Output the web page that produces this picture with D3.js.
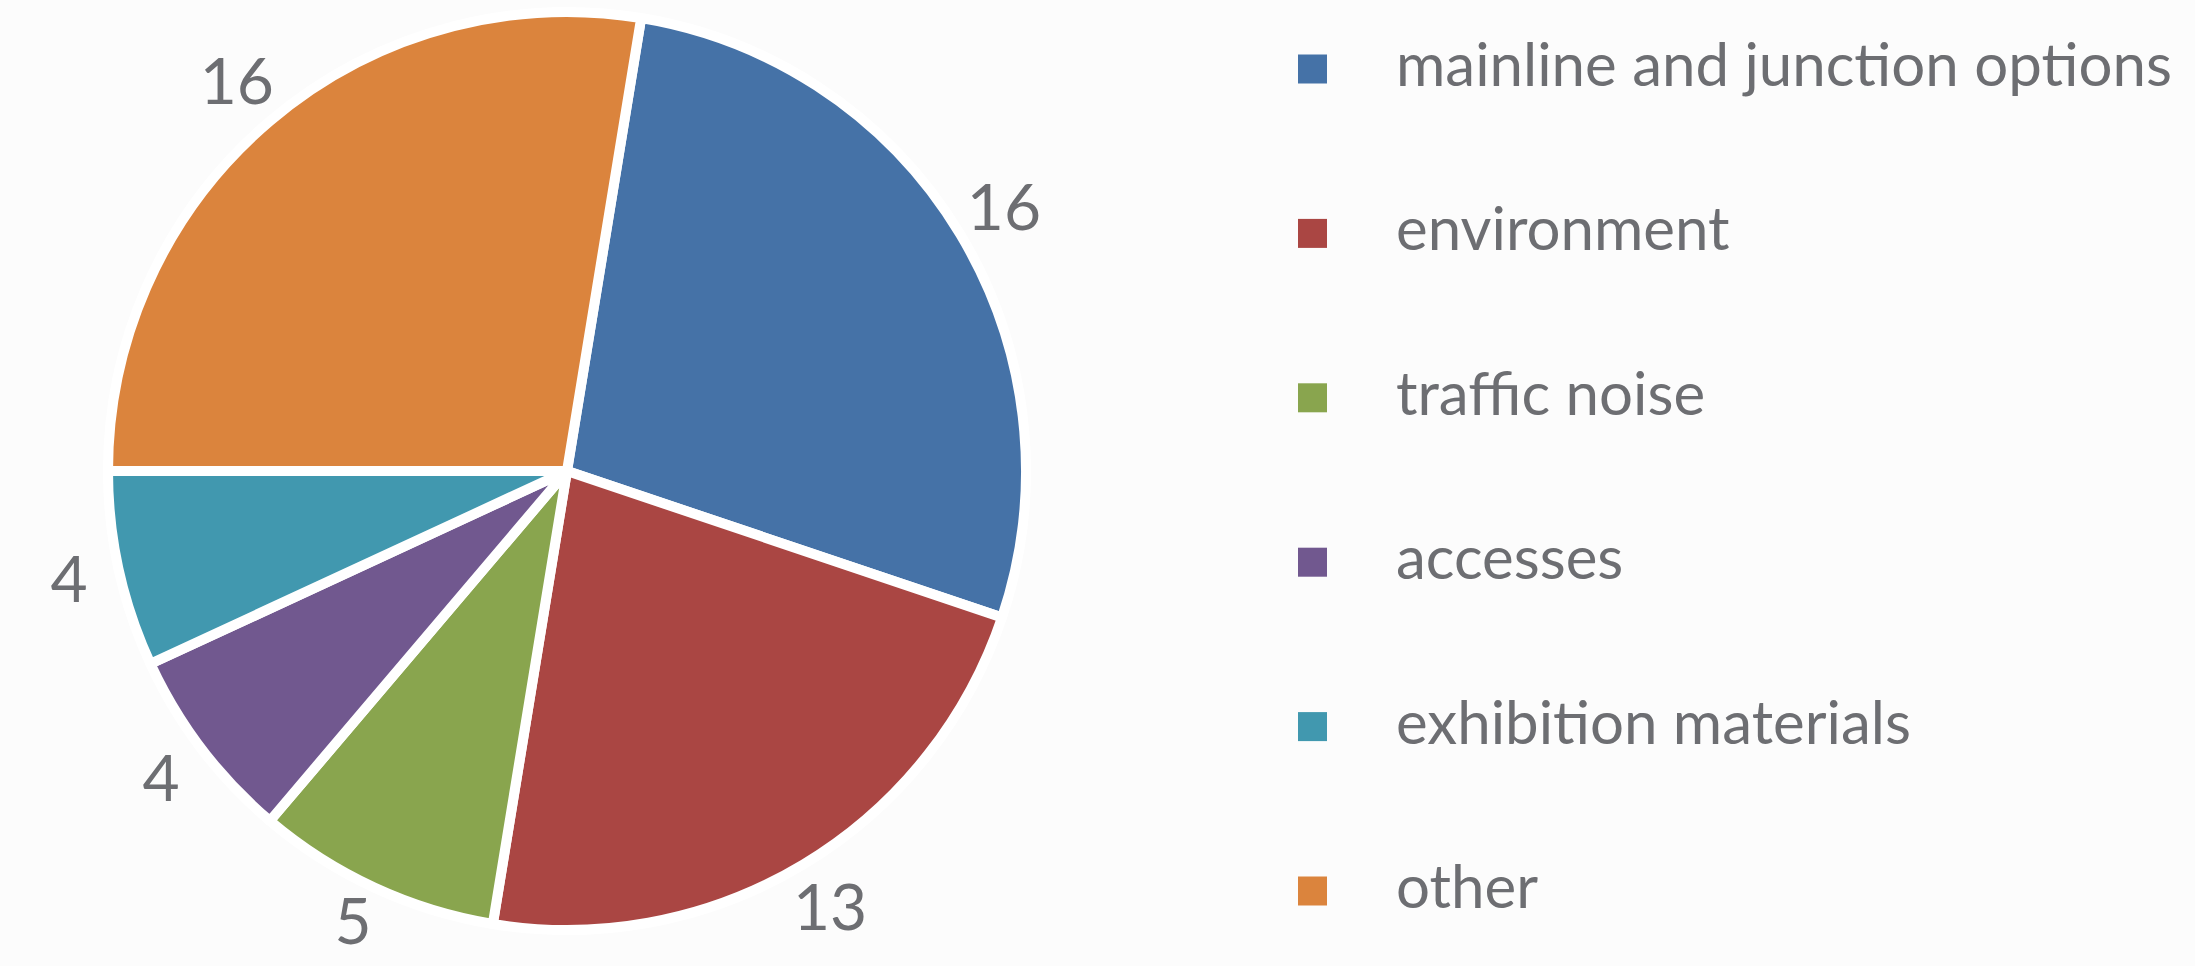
<!DOCTYPE html>
<html>
<head>
<meta charset="utf-8">
<script src="https://cdn.jsdelivr.net/npm/d3@7"></script>
<style>
  html, body { margin: 0; padding: 0; background: #fcfcfc; }
  svg { display: block; }
</style>
</head>
<body>
<div id="chart"></div>
<script>
'use strict';

var categories = ['mainline and junction options', 'environment', 'traffic noise', 'accesses', 'exhibition materials', 'other'];
var values = [16, 13, 5, 4, 4, 16];
var colors = ['#4572A7', '#AA4643', '#89A54E', '#71588F', '#4198AF', '#DB843D'];

var width = 2195, height = 966;
var cx = 567, cy = 471, radius = 459;
var labelRadius = 510;
var startAngle = 9.3 * Math.PI / 180;

var svg = d3.select('#chart').append('svg')
  .attr('width', width)
  .attr('height', height);

svg.append('rect')
  .attr('width', width)
  .attr('height', height)
  .attr('fill', '#fcfcfc');

var data = categories.map(function(c, i) {
  return {name: c, value: values[i], color: colors[i]};
});

var pie = d3.pie()
  .sort(null)
  .value(function(d) { return d.value })
  .startAngle(startAngle)
  .endAngle(startAngle + 2 * Math.PI);

var arc = d3.arc().innerRadius(0).outerRadius(radius);
var labelArc = d3.arc().innerRadius(labelRadius).outerRadius(labelRadius);

var g = svg.append('g')
  .attr('transform', 'translate(' + cx + ',' + cy + ')');

var slices = pie(data);

g.selectAll('path')
  .data(slices)
  .enter()
  .append('path')
  .attr('d', arc)
  .attr('fill', function(d) { return d.data.color })
  .attr('stroke', '#fff')
  .attr('stroke-width', 10)
  .attr('stroke-linejoin', 'round');

g.selectAll('text')
  .data(slices)
  .enter()
  .append('text')
  .attr('transform', function(d) {
    var c = labelArc.centroid(d);
    // keep the bottom label inside the picture
    c[1] = Math.min(c[1], height - cy - 44);
    return 'translate(' + c + ')';
  })
  .attr('text-anchor', 'middle')
  .attr('dy', '0.34em')
  .style('font-family', 'Lato, sans-serif')
  .style('font-size', '64px')
  .style('fill', '#6d6e72')
  .text(function(d) { return d.data.value });

// legend
var legend = svg.append('g')
  .attr('class', 'legend');

var rowY = d3.scalePoint()
  .domain(categories)
  .range([69, 891]);

var item = legend.selectAll('g')
  .data(data)
  .enter()
  .append('g')
  .attr('transform', function(d) { return 'translate(1298,' + rowY(d.name) + ')' });

item.append('rect')
  .attr('x', 0)
  .attr('y', -14.5)
  .attr('width', 29)
  .attr('height', 29)
  .attr('fill', function(d) { return d.color });

item.append('text')
  .attr('x', 98)
  .attr('y', 17)
  .style('font-family', 'Lato, sans-serif')
  .style('font-size', '60px')
  .style('fill', '#6d6e72')
  .text(function(d) { return d.name });
</script>
</body>
</html>
